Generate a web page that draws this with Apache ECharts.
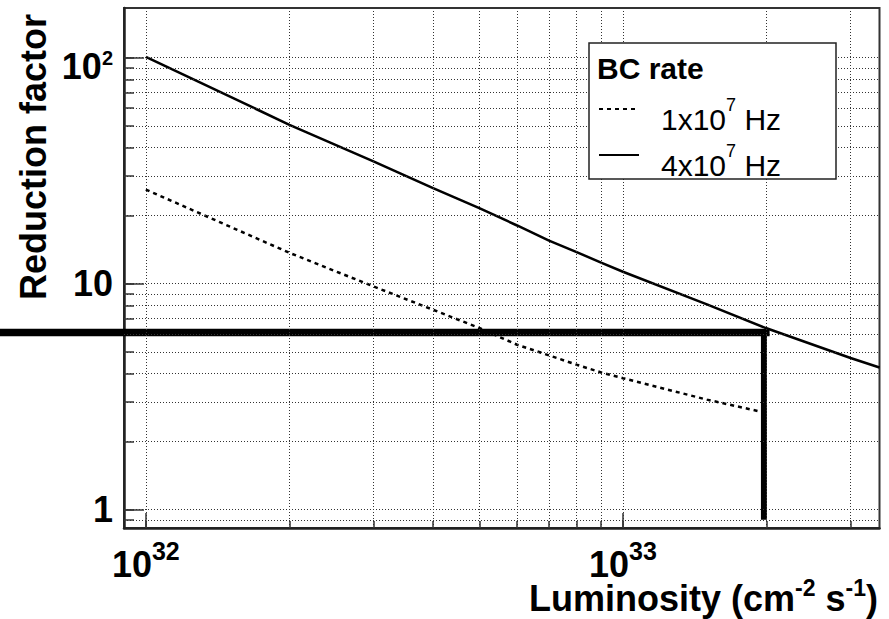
<!DOCTYPE html>
<html>
<head>
<meta charset="utf-8">
<script src="https://cdn.jsdelivr.net/npm/echarts@6/dist/echarts.min.js"></script>
<style>
html, body { margin: 0; padding: 0; background: #fff; }
#chart { width: 889px; height: 619px; }
</style>
</head>
<body>
<div id="chart"></div>
<script>
const FONT = '"Liberation Sans", Arial, Helvetica, sans-serif'

// luminosity sample points (cm^-2 s^-1) and reduction factors
const lumiSlow = [1e32, 2e32, 3e32, 4e32, 5e32, 6e32, 7e32, 8e32, 9e32, 1e33, 1.5e33, 2e33]
const rateSlow = [26.1, 13.7, 9.73, 7.67, 6.37, 5.37, 4.82, 4.38, 4.05, 3.82, 3.07, 2.68] // 1x10^7 Hz
const lumiFast = [1e32, 2e32, 3e32, 4e32, 5e32, 6e32, 7e32, 8e32, 9e32, 1e33, 1.5e33, 2e33, 3e33, 3.45e33]
const rateFast = [101, 50.5, 34.8, 26.5, 21.6, 18.1, 15.5, 13.8, 12.4, 11.3, 8.1, 6.35, 4.69, 4.26] // 4x10^7 Hz

// thick operating-point marker
const markLumiH = [4.9e31, 2.03e33]
const markRateH = 6.08
const markLumiV = 1.975e33
const markRateV = [6.08, 0.903]

// axis ranges
const xRange = [9e31, 3.45e33]
const yRange = [0.83, 166]

// ticks / grid
const xMinor = [1e32, 2e32, 3e32, 4e32, 5e32, 6e32, 7e32, 8e32, 9e32, 1e33, 2e33, 3e33]
const xMajor = [1e32, 1e33]
const yMinor = [0.9, 1, 2, 3, 4, 5, 6, 7, 8, 9, 10, 20, 30, 40, 50, 60, 70, 80, 90, 100]
const yMajor = [1, 10, 100]

const seriesNames = ['1x10^7 Hz', '4x10^7 Hz']

const zip = (xs, ys) => xs.map((x, i) => [x, ys[i]])
const exp10 = v => Math.round(Math.log10(v))

// superscripts: base sits at the bottom of a taller line, exponent at its top
const xLabelRich = {
  b: { fontFamily: FONT, fontSize: 36, fontWeight: 'bold', lineHeight: 44, verticalAlign: 'bottom', color: '#000' },
  s: { fontFamily: FONT, fontSize: 25, fontWeight: 'bold', verticalAlign: 'top', color: '#000' },
}
const yLabelRich = {
  y: { fontFamily: FONT, fontSize: 36, fontWeight: 'bold', lineHeight: 36, color: '#000' },
  bb: { fontFamily: FONT, fontSize: 36, fontWeight: 'bold', lineHeight: 54, verticalAlign: 'bottom', color: '#000' },
  ym: { fontFamily: FONT, fontSize: 20, fontWeight: 'bold', verticalAlign: 'middle', color: '#000' },
}

const tickStyle = { color: '#333', width: 1.5 }
const gridLine = { type: [1, 2], color: '#333', width: 1 }

const chart = echarts.init(document.getElementById('chart'), null, { renderer: 'svg' })

chart.setOption({
  animation: false,
  backgroundColor: '#fff',
  grid: {
    left: 124, right: 9.5, top: 8, bottom: 91,
    show: true, borderColor: '#333', borderWidth: 2,
  },
  xAxis: [
    {
      type: 'log', logBase: 10, min: xRange[0], max: xRange[1], position: 'bottom',
      axisLine: { show: true, onZero: false, lineStyle: { color: '#222', width: 2.5 } },
      axisTick: { show: true, inside: true, length: 7, customValues: xMinor, lineStyle: tickStyle },
      axisLabel: {
        show: true, customValues: xMajor, margin: 10,
        formatter: v => `{b|10}{s|${exp10(v)}}`,
        rich: xLabelRich,
      },
      splitLine: { show: false },
    },
    {
      type: 'log', logBase: 10, min: xRange[0], max: xRange[1], position: 'bottom',
      axisLine: { show: false },
      axisTick: { show: true, inside: true, length: 15, customValues: xMajor, lineStyle: tickStyle },
      axisLabel: { show: false },
      splitLine: { show: false },
    },
  ],
  yAxis: [
    {
      type: 'log', logBase: 10, min: yRange[0], max: yRange[1], position: 'left',
      axisLine: { show: true, onZero: false, lineStyle: { color: '#222', width: 2.5 } },
      axisTick: { show: true, inside: true, length: 10, customValues: yMinor, lineStyle: tickStyle },
      axisLabel: {
        show: true, customValues: yMajor, margin: 11,
        formatter: v => {
          const e = exp10(v)
          if (e === 0) return '{y|1}'
          if (e === 1) return '{y|10}'
          return `{bb|10}{ym|${e}}`
        },
        rich: yLabelRich,
      },
      splitLine: { show: false },
    },
    {
      type: 'log', logBase: 10, min: yRange[0], max: yRange[1], position: 'left',
      axisLine: { show: false },
      axisTick: { show: true, inside: true, length: 20, customValues: yMajor, lineStyle: tickStyle },
      axisLabel: { show: false },
      splitLine: { show: false },
    },
  ],
  legend: {
    data: seriesNames,
    orient: 'vertical', left: 598, top: 96, padding: 0, itemGap: 8,
    itemWidth: 40, itemHeight: 10, z: 60, selectedMode: false,
    itemStyle: { opacity: 0 },
    formatter: name => {
      const m = name.match(/^(\w+)\^(\d+) (\w+)$/)
      return `{n|${m[1]}}{s|${m[2]}}{n| ${m[3]}}`
    },
    textStyle: {
      padding: [12, 0, 0, 17],
      rich: {
        n: { fontFamily: FONT, fontSize: 30, lineHeight: 38, verticalAlign: 'bottom', color: '#000' },
        s: { fontFamily: FONT, fontSize: 18, verticalAlign: 'top', color: '#000' },
      },
    },
  },
  graphic: [
    {
      type: 'rect', z: 50, silent: true,
      shape: { x: 589, y: 43, width: 247, height: 136 },
      style: { fill: '#fff', stroke: '#222', lineWidth: 1.5 },
    },
    {
      type: 'text', z: 60, x: 597, y: 68,
      style: { text: 'BC rate', font: `bold 30px ${FONT}`, fill: '#000', verticalAlign: 'middle' },
    },
    {
      type: 'text', z: 60, x: 33, y: 157, rotation: Math.PI / 2,
      style: { text: 'Reduction factor', font: `bold 36px ${FONT}`, fill: '#000', align: 'center', verticalAlign: 'middle' },
    },
    {
      type: 'text', z: 60, x: 878, y: 596,
      style: {
        text: '{b|Luminosity (cm}{s|-2}{b| s}{s|-1}{b|)}',
        align: 'right', verticalAlign: 'middle',
        rich: {
          b: { fontFamily: FONT, fontSize: 36, fontWeight: 'bold', lineHeight: 40, verticalAlign: 'bottom', fill: '#000' },
          s: { fontFamily: FONT, fontSize: 23, fontWeight: 'bold', verticalAlign: 'top', fill: '#000' },
        },
      },
    },
  ],
  series: [
    {
      // dotted grid drawn through the axes
      type: 'line', data: [], z: 1, silent: true,
      markLine: {
        silent: true, symbol: ['none', 'none'], label: { show: false },
        lineStyle: gridLine, emphasis: { disabled: true },
        data: [...yMinor.map(v => ({ yAxis: v })), ...xMinor.map(v => ({ xAxis: v }))],
      },
    },
    {
      name: seriesNames[0], type: 'line', symbol: 'none', z: 3,
      data: zip(lumiSlow, rateSlow),
      lineStyle: { color: '#000', width: 2.5, type: [4, 4] },
      itemStyle: { color: '#000' },
    },
    {
      name: seriesNames[1], type: 'line', symbol: 'none', z: 3,
      data: zip(lumiFast, rateFast),
      lineStyle: { color: '#000', width: 2.5, type: 'solid' },
      itemStyle: { color: '#000' },
    },
    {
      // horizontal marker, runs past the frame to the left edge
      type: 'custom', z: 4, silent: true, clip: false,
      data: [[markLumiH[0], markLumiH[1], markRateH]],
      renderItem: (params, api) => {
        const y = api.value(2)
        const a = api.coord([xMajor[0], y])
        const b = api.coord([xMajor[1], y])
        const perDecade = (b[0] - a[0]) / Math.log10(xMajor[1] / xMajor[0])
        const x0 = a[0] + Math.log10(api.value(0) / xMajor[0]) * perDecade
        const x1 = a[0] + Math.log10(api.value(1) / xMajor[0]) * perDecade
        return {
          type: 'line',
          shape: { x1: x0, y1: a[1], x2: x1, y2: a[1] },
          style: { stroke: '#000', lineWidth: 7.5 },
        }
      },
    },
    {
      type: 'line', symbol: 'none', z: 4, silent: true,
      data: markRateV.map(y => [markLumiV, y]),
      lineStyle: { color: '#000', width: 6 },
    },
  ],
})
</script>
</body>
</html>
